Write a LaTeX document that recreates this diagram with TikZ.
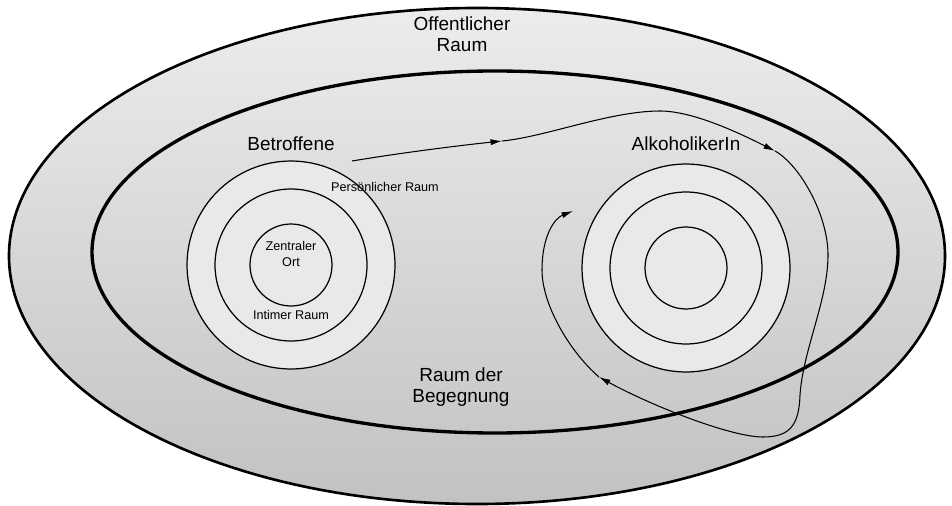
\documentclass[tikz,border=0pt]{standalone}
\usepackage{fontspec}
\setmainfont{Liberation Sans}
\usetikzlibrary{arrows.meta}
\definecolor{shadetop}{HTML}{ECECEC}
\definecolor{shadebottom}{HTML}{C2C2C2}
\definecolor{innertop}{HTML}{E7E7E7}
\definecolor{innerbottom}{HTML}{C8C8C8}
\definecolor{ringfill}{HTML}{E9E9E9}

\begin{document}
\begin{tikzpicture}[x=0.02cm, y=-0.02cm,
    ring/.style={draw, circle, fill=ringfill, line width=0.7pt, inner sep=0pt},
    big/.style={font=\fontsize{10.8}{12}\selectfont, align=center, inner sep=0pt},
    small/.style={font=\fontsize{7.2}{9}\selectfont, align=center, inner sep=0pt},
    weg/.style={line width=0.6pt, -{Latex[length=6.5pt,width=3.5pt]}}]
    \useasboundingbox (0,0) rectangle (952,506);

    % Raeume
    \draw[line width=1.5pt, top color=shadetop, bottom color=shadebottom] (477,256) ellipse [x radius=468, y radius=248];
    \draw[line width=1.9pt, top color=innertop, bottom color=innerbottom] (495,252) ellipse [x radius=403, y radius=181];

    % Betroffene
    \node[ring, minimum size=4.16cm] (betr-aussen) at (291,265) {};
    \node[ring, minimum size=3.04cm] (betr-mitte) at (291,265) {};
    \node[ring, minimum size=1.64cm] (betr-innen) at (291,265) {};

    % AlkoholikerIn
    \node[ring, minimum size=4.16cm] (alk-aussen) at (686,268) {};
    \node[ring, minimum size=3.04cm] (alk-mitte) at (686,268) {};
    \node[ring, minimum size=1.64cm] (alk-innen) at (686,268) {};

    % Beschriftung
    \node[big] (oeffentlich) at (462,34) {Offentlicher\\Raum};
    \node[big] (begegnung) at (461,387) {Raum der\\Begegnung};
    \node[big] (betroffene) at (291,144) {Betroffene};
    \node[big] (alkoholiker) at (686,144) {AlkoholikerIn};
    \node[small] (persoenlich) at (385,187) {Persönlicher Raum};
    \node[small] (zentral) at (291,254) {Zentraler\\Ort};
    \node[small] (intim) at (291,315) {Intimer Raum};

    % Weg
    \coordinate (start) at (352,161);
    \coordinate (pfeil-1) at (502,141);
    \coordinate (gipfel) at (660,111);
    \coordinate (pfeil-2) at (775,151);
    \coordinate (rechts) at (828,255);
    \coordinate (unten-r) at (800,395);
    \coordinate (tief) at (763,437);
    \coordinate (pfeil-3) at (599,377);
    \coordinate (links) at (542,270);
    \coordinate (pfeil-4) at (573,211);

    \draw[weg] (start) .. controls (400,153) and (455,146) .. (pfeil-1);
    \draw[weg] (pfeil-1) .. controls (545,137) and (610,111) .. (gipfel)
        .. controls (695,111) and (745,136) .. (pfeil-2);
    \draw[weg] (pfeil-2) .. controls (800,165) and (828,215) .. (rechts)
        .. controls (828,300) and (803,350) .. (unten-r)
        .. controls (799,425) and (790,437) .. (tief)
        .. controls (730,437) and (650,405) .. (pfeil-3);
    \draw[weg] (pfeil-3) .. controls (570,352) and (542,305) .. (links)
        .. controls (542,235) and (555,218) .. (pfeil-4);

\end{tikzpicture}
\end{document}
